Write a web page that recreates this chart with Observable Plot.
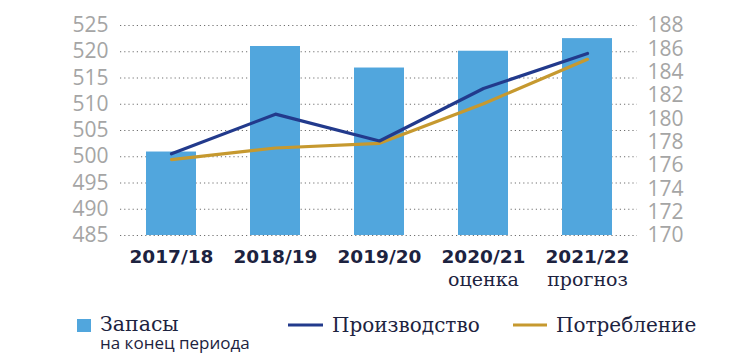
<!DOCTYPE html>
<html>
<head>
<meta charset="utf-8">
<script src="https://cdn.jsdelivr.net/npm/d3@7"></script>
<script src="https://cdn.jsdelivr.net/npm/@observablehq/plot@0.6"></script>
<style>
  html, body { margin: 0; padding: 0; background: #fff; }
  #chart { width: 730px; height: 359px; position: relative; overflow: hidden; }
  #chart svg { display: block; }
  .serif { font-family: "DejaVu Serif", "Liberation Serif", serif; }
</style>
</head>
<body>
<div id="chart"></div>
<script>
// ---- data ----
const seasons = ["2017/18", "2018/19", "2019/20", "2020/21", "2021/22"];
const seasonNotes = ["", "", "", "оценка", "прогноз"];
const stocks = [500.9, 521.0, 516.9, 520.1, 522.5];        // left axis
const production = [177.0, 180.4, 178.1, 182.6, 185.6];    // right axis
const consumption = [176.5, 177.5, 177.9, 181.3, 185.1];   // right axis
const leftTicks = [485, 490, 495, 500, 505, 510, 515, 520, 525];
const rightTicks = [170, 172, 174, 176, 178, 180, 182, 184, 186, 188];
const leftDomain = [485, 525];
const rightDomain = [170, 188];

const seriesNames = ["Запасы", "Производство", "Потребление"];
const stocksSubLabel = "на конец периода";

const colBar = "#51a6dd";
const colProd = "#223a8c";
const colCons = "#c6992f";
const colText = "#1d2340";
const colGray = "#a5a5a5";

// map right-axis values onto the left scale
const toLeft = v => leftDomain[0] + (v - rightDomain[0]) * (leftDomain[1] - leftDomain[0]) / (rightDomain[1] - rightDomain[0]);
const fromLeft = v => rightDomain[0] + (v - leftDomain[0]) * (rightDomain[1] - rightDomain[0]) / (leftDomain[1] - leftDomain[0]);

const barData = seasons.map((s, i) => ({season: s, value: stocks[i]}));
const prodData = seasons.map((s, i) => ({season: s, value: toLeft(production[i])}));
const consData = seasons.map((s, i) => ({season: s, value: toLeft(consumption[i])}));

const plot = Plot.plot({
  width: 730,
  height: 300,
  marginLeft: 120,
  marginRight: 93,
  marginTop: 25,
  marginBottom: 65,
  style: {fontFamily: "'Open Sans', sans-serif", fontSize: "21px", color: colGray, background: "#fff"},
  x: {type: "band", domain: seasons, paddingInner: 0.52, paddingOuter: 0.23, axis: null},
  y: {domain: leftDomain, axis: null},
  marks: [
    Plot.gridY(leftTicks, {stroke: "#707070", strokeOpacity: 1, strokeWidth: 1.2, strokeDasharray: "1.2,3"}),
    Plot.barY(barData, {x: "season", y1: leftDomain[0], y2: "value", fill: colBar}),
    Plot.line(consData, {x: "season", y: "value", stroke: colCons, strokeWidth: 3.2}),
    Plot.line(prodData, {x: "season", y: "value", stroke: colProd, strokeWidth: 3.2}),
    Plot.axisY(leftTicks, {anchor: "left", tickSize: 0, tickPadding: 12, label: null, fill: colGray, fontSize: 21}),
    Plot.axisY(rightTicks.map(toLeft), {anchor: "right", tickSize: 0, tickPadding: 10, label: null, fill: colGray, fontSize: 21,
      tickFormat: d => String(Math.round(fromLeft(d)))}),
    Plot.axisX(seasons, {anchor: "bottom", tickSize: 0, tickPadding: 14, label: null, fill: colText,
      fontFamily: "'DejaVu Sans', sans-serif", fontWeight: "bold", fontSize: 18.5}),
    Plot.axisX(seasons.filter((s, i) => seasonNotes[i]), {anchor: "bottom", tickSize: 0, tickPadding: 37, label: null, fill: colText,
      fontFamily: "'DejaVu Serif', serif", fontSize: 19,
      tickFormat: d => seasonNotes[seasons.indexOf(d)]})
  ]
});

const chart = document.getElementById("chart");
chart.appendChild(plot);

// legend below the plot
const ns = "http://www.w3.org/2000/svg";
const leg = document.createElementNS(ns, "svg");
leg.setAttribute("width", 730);
leg.setAttribute("height", 59);
function el(tag, attrs, text) {
  const e = document.createElementNS(ns, tag);
  for (const k in attrs) e.setAttribute(k, attrs[k]);
  if (text != null) e.textContent = text;
  leg.appendChild(e);
  return e;
}
el("rect", {x: 77, y: 19, width: 14, height: 13, fill: colBar});
el("text", {x: 100, y: 31, fill: colText, "font-size": 20.5, class: "serif"}, seriesNames[0]);
el("text", {x: 100, y: 49, fill: colText, "font-size": 17, "font-family": "'Open Sans', sans-serif"}, stocksSubLabel);
el("line", {x1: 288, x2: 323, y1: 25, y2: 25, stroke: colProd, "stroke-width": 3.2});
el("text", {x: 332, y: 32, fill: colText, "font-size": 20, class: "serif"}, seriesNames[1]);
el("line", {x1: 513, x2: 547, y1: 25, y2: 25, stroke: colCons, "stroke-width": 3.2});
el("text", {x: 556, y: 32, fill: colText, "font-size": 20, class: "serif"}, seriesNames[2]);
chart.appendChild(leg);
</script>
</body>
</html>
